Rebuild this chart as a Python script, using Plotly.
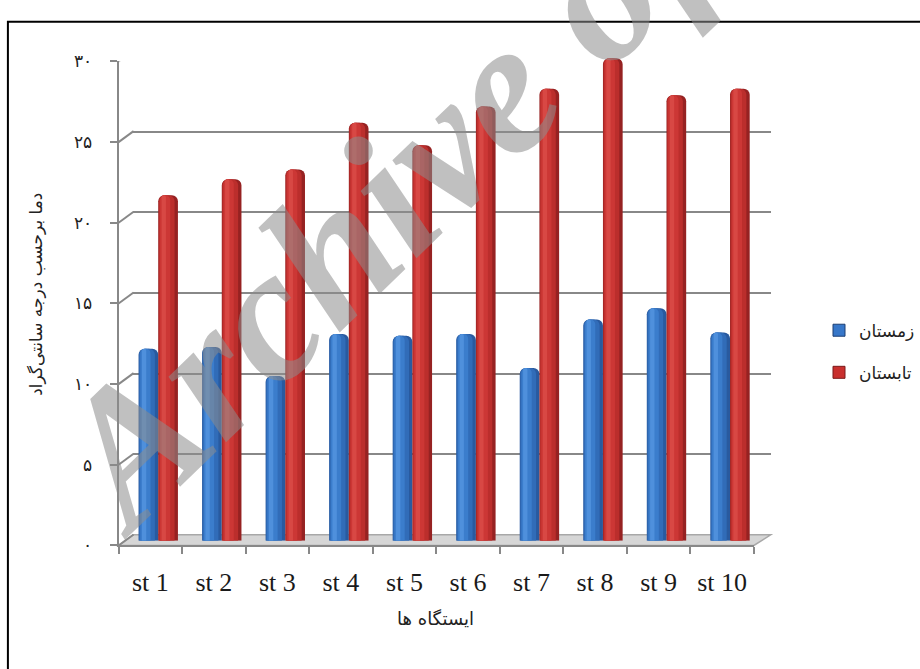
import plotly.graph_objects as go

# ---- data -------------------------------------------------------------
stations = ["st 1", "st 2", "st 3", "st 4", "st 5", "st 6", "st 7", "st 8", "st 9", "st 10"]
winter = [11.9, 12.0, 10.2, 12.8, 12.7, 12.8, 10.7, 13.7, 14.4, 12.9]   # زمستان
summer = [21.4, 22.4, 23.0, 25.9, 24.5, 26.9, 28.0, 29.9, 27.6, 28.0]  # تابستان
y_tick_vals = [0, 5, 10, 15, 20, 25, 30]
y_tick_text = ["۰", "۵", "۱۰", "۱۵", "۲۰", "۲۵", "۳۰"]

series_names = ["زمستان", "تابستان"]
y_title = "دما برحسب درجه سانتی‌گراد"
x_title = "ایستگاه ها"
watermark = "Archive of SID"

# ---- page geometry (pixels) ------------------------------------------
W, H = 920, 669


def fx(px):
    return px / W


def fy(py):
    return 1 - py / H


# front plane (axis lines), back wall (gridlines), bar plane in between
FRONT_X = (120, 763)
FRONT_Y = (552, 53)
BACK_X = (135, 780)
BACK_Y = (541, 42.5)
BAR_X = (128, 771)
BAR_Y = (547, 48)
DEPTH_DX = BACK_X[0] - FRONT_X[0]
DEPTH_DY = FRONT_Y[0] - BACK_Y[0]

GRID = "#888888"
SERIF = "Times New Roman, Liberation Serif, DejaVu Serif, serif"
n = len(stations)
pos = list(range(n))
bar_w = 0.31

fig = go.Figure()

# back wall subplot (gridlines only)
fig.add_trace(go.Scatter(x=[0], y=[0], mode="markers", marker=dict(opacity=0),
                         hoverinfo="skip", showlegend=False, xaxis="x", yaxis="y"))

# cylinder-like bars: stacked layers of decreasing width and lighter tone
blue_layers = [(1.00, 0.00, "#295a9f"), (0.80, 0.03, "#316cb8"),
               (0.52, 0.09, "#3b7dcc"), (0.22, 0.17, "#4f90dc")]
red_layers = [(1.00, 0.00, "#962222"), (0.80, 0.03, "#bb2e2c"),
              (0.52, 0.09, "#cc3735"), (0.22, 0.17, "#d84844")]

legend_style = {
    series_names[0]: ("#3777c9", "#1d3f73"),
    series_names[1]: ("#c9302e", "#7a1a1a"),
}

for vals, layers, name, base_off in [
    (winter, blue_layers, series_names[0], -bar_w),
    (summer, red_layers, series_names[1], 0.0),
]:
    for k, (wf, of, col) in enumerate(layers):
        fig.add_trace(go.Bar(
            x=pos, y=vals, xaxis="x2", yaxis="y2",
            width=bar_w * wf, offset=base_off + bar_w * of,
            marker=dict(color=col, line=dict(width=0), cornerradius=6),
            name=name, legendgroup=name, showlegend=False,
            hoverinfo="skip" if k else None,
        ))
    # legend entry
    fill, edge = legend_style[name]
    fig.add_trace(go.Bar(
        x=[None], y=[None], xaxis="x2", yaxis="y2", name=name, legendgroup=name,
        marker=dict(color=fill, line=dict(color=edge, width=1)),
        showlegend=True,
    ))

# front axes (ticks, labels, category ticks on boundaries)
fig.add_trace(go.Scatter(x=stations, y=[0] * n, mode="markers", marker=dict(opacity=0),
                         hoverinfo="skip", showlegend=False, xaxis="x3", yaxis="y3"))

# ---- decorations: floor, depth connectors, frame ----------------------
shapes = []
floor_path = (f"M {fx(FRONT_X[0])},{fy(FRONT_Y[0])} L {fx(FRONT_X[1])},{fy(FRONT_Y[0])} "
              f"L {fx(BACK_X[1])},{fy(BACK_Y[0])} L {fx(BACK_X[0])},{fy(BACK_Y[0])} Z")
shapes.append(dict(type="path", xref="paper", yref="paper", path=floor_path,
                   fillcolor="#d6d6d6", line=dict(color="#a8a8a8", width=1.5), layer="below"))
for v in y_tick_vals:
    shapes.append(dict(type="line", xref="paper", yref="y3",
                       xsizemode="pixel", xanchor=fx(FRONT_X[0]), x0=0, x1=DEPTH_DX,
                       ysizemode="pixel", yanchor=v, y0=0, y1=DEPTH_DY,
                       line=dict(color=GRID, width=2), layer="below"))
# outer frame
shapes.append(dict(type="rect", xref="paper", yref="paper",
                   x0=fx(8), x1=1.02, y0=-0.02, y1=fy(12),
                   line=dict(color="black", width=2), fillcolor="rgba(0,0,0,0)"))

annotations = [
    dict(text=y_title, xref="paper", yref="paper", x=fx(37), y=fy(293),
         textangle=-90, showarrow=False, xanchor="center", yanchor="middle",
         font=dict(family="DejaVu Sans", size=17, color="#222")),
    dict(text=x_title, xref="paper", yref="paper", x=fx(441), y=fy(627),
         showarrow=False, xanchor="center", yanchor="middle",
         font=dict(family="DejaVu Sans", size=18, color="#222")),
    dict(text=watermark, xref="paper", yref="paper",
         x=fx(515), y=fy(72),
         textangle=-44, showarrow=False, xanchor="center", yanchor="middle",
         font=dict(family=SERIF, size=190, color="rgba(140,140,140,0.55)",
                   style="italic", weight="bold")),
]

fig.update_layout(
    width=W, height=H, autosize=False,
    margin=dict(l=0, r=0, t=0, b=0),
    paper_bgcolor="white", plot_bgcolor="rgba(0,0,0,0)",
    barmode="overlay",
    showlegend=True,
    legend=dict(x=fx(829), y=fy(312), xanchor="left", yanchor="top",
                font=dict(family="DejaVu Sans", size=17, color="#222"),
                itemwidth=30, tracegroupgap=17, bgcolor="rgba(0,0,0,0)"),
    xaxis=dict(domain=[fx(BACK_X[0]), fx(BACK_X[1])], range=[0, 1], anchor="y",
               showgrid=False, zeroline=False, showticklabels=False, ticks="", showline=False),
    yaxis=dict(domain=[fy(BACK_Y[0]), fy(BACK_Y[1])], range=[0, 30], anchor="x",
               tickvals=y_tick_vals, showgrid=True, gridcolor=GRID, gridwidth=2,
               zeroline=False, showticklabels=False, ticks="", showline=False),
    xaxis2=dict(domain=[fx(BAR_X[0]), fx(BAR_X[1])], range=[-0.5, n - 0.5], anchor="y2",
                visible=False),
    yaxis2=dict(domain=[fy(BAR_Y[0]), fy(BAR_Y[1])], range=[0, 30], anchor="x2",
                visible=False),
    xaxis3=dict(domain=[fx(FRONT_X[0]), fx(FRONT_X[1])], anchor="y3", type="category",
                categoryorder="array", categoryarray=stations, range=[-0.5, n - 0.5],
                tickson="boundaries", ticks="outside", ticklen=7, tickwidth=2, tickcolor=GRID,
                showline=True, linecolor=GRID, linewidth=2, showgrid=False, zeroline=False,
                tickfont=dict(family=SERIF, size=26, color="#1a1a1a"),
                ticklabelstandoff=12),
    yaxis3=dict(domain=[fy(FRONT_Y[0]), fy(FRONT_Y[1])], range=[0, 30], anchor="x3",
                tickvals=y_tick_vals, ticktext=y_tick_text, ticks="outside", ticklen=7,
                tickwidth=2, tickcolor=GRID, showline=True, linecolor=GRID, linewidth=2,
                showgrid=False, zeroline=False, ticklabelstandoff=14,
                tickfont=dict(family="DejaVu Sans", size=17, color="#222")),
    shapes=shapes,
    annotations=annotations,
)

fig.write_html("out.html")
